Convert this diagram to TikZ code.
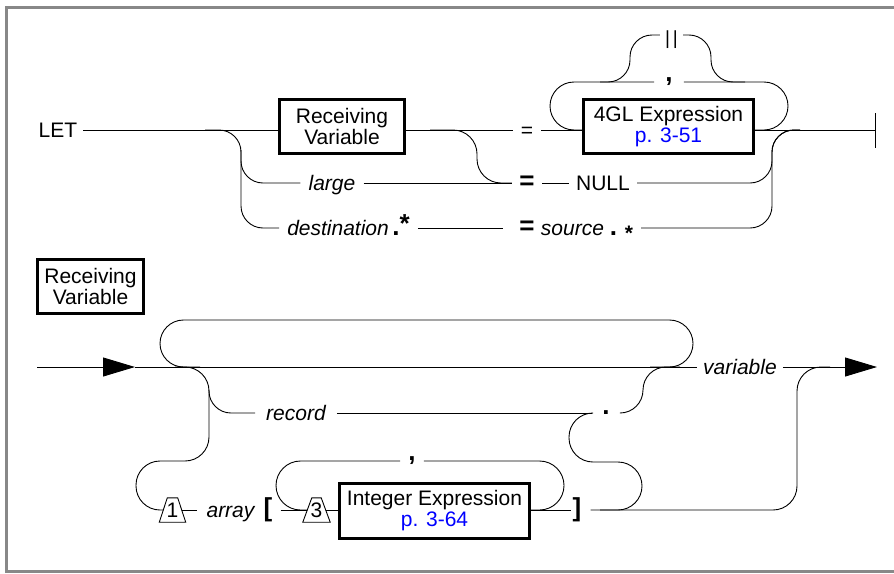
\documentclass[tikz,border=0pt]{standalone}
\usepackage{fontspec}
\setmainfont{Liberation Sans}
\usetikzlibrary{arrows.meta}
\definecolor{framegray}{RGB}{136,136,136}
\definecolor{linkblue}{RGB}{0,0,255}
\begin{document}
\begin{tikzpicture}[x=1pt,y=-1pt,
  every node/.style={font=\fontsize{21}{21}\selectfont},
  rail/.style={line width=0.9pt},
  rc/.style={rail, rounded corners=#1}, rc/.default=23pt,
  lbl/.style={inner ysep=0pt, inner xsep=#1, text height=14pt, text depth=0pt}, lbl/.default=7pt,
  itl/.style={font=\itshape\fontsize{21}{21}\selectfont},
  sym/.style={font=\bfseries\fontsize{26}{26}\selectfont, inner ysep=0pt, inner xsep=#1}, sym/.default=8pt,
  punct/.style={sym=#1, text height=0pt, text depth=1pt},
  dotsym/.style={sym=#1, text height=3.6pt, text depth=0pt},
  synbox/.style={draw, line width=3pt, align=center, inner sep=0pt, minimum height=54pt, minimum width=#1},
  trapbox/.style={inner sep=0pt, minimum height=24pt, minimum width=#1, text height=14pt, text depth=0pt},
  tip/.style={-{Triangle[length=32pt,width=19pt]}},
]
\useasboundingbox (0,0) rectangle (894,573);
\draw[framegray, line width=3pt] (894,7.5) -- (6,7.5) -- (6,571.5) -- (894,571.5);

% ---------------- top diagram ----------------
\node[lbl=6pt] (let) at (58,130) {LET};
\node[synbox=125pt] (rv) at (342,126.5) {Receiving\\Variable};
\node[lbl=8pt] (eq1) at (527,130) {=};
\node[synbox=170pt] (gl) at (668.5,126.5) {4GL Expression\\\textcolor{linkblue}{p. 3-51}};
\coordinate (rvw) at (rv.west |- let.east);
\coordinate (rve) at (rv.east |- let.east);
\coordinate (glw) at (gl.west |- let.east);
\coordinate (gle) at (gl.east |- let.east);
\coordinate (endtop) at (875,130);
\coordinate (bartop) at (875,113);
\coordinate (barbot) at (875,148);
\node[punct=11pt] (cm1) at (669,82) {,};
\node[lbl=5pt, font=\fontsize{19}{19}\selectfont] (bars) at (671.5,35) {\raisebox{-2pt}{|\kern3pt|}};
\node[lbl=8pt, itl] (large) at (332,183) {large};
\node[sym=7.4pt] (eqb1) at (527,183) {=};
\node[lbl=7pt] (null) at (603,183) {NULL};
\node[lbl=8pt] (dest) at (348.5,228) {\textit{destination}\,{\bfseries\fontsize{26}{26}\selectfont.\raisebox{3pt}{*}}};
\node[sym=16.4pt] (eqb3) at (527,228) {=};
\node[lbl=8pt] (src) at (587,228) {\textit{source} {\bfseries\fontsize{26}{26}\selectfont.} \raisebox{-5pt}{\bfseries *}};

\coordinate (j1) at (205,130);
\coordinate (j2) at (430,130);
\coordinate (j3) at (800,130);
\coordinate (cj1) at (600,82);
\coordinate (cj2) at (745,82);

\draw[rail] (let.east) -- (rvw);
\draw[rail] (rve) -- (eq1.west);
\draw[rail] (eq1.east) -- (glw);
\draw[rail] (gle) -- (endtop);
\draw[rail] (bartop) -- (barbot);
\draw[rc=24pt] (glw) -- (550,130) -- (550,82) -- (cm1.west);
\draw[rc=24pt] (gle) -- (788,130) -- (788,82) -- (cm1.east);
\draw[rc=22pt] (cj1) -- (630,82) -- (630,35) -- (bars.west);
\draw[rc=22pt] (bars.east) -- (711,35) -- (711,82) -- (cj2);

\draw[rc=22pt] (j1) -- (241,130) -- (241,228) -- (dest.west);
\draw[rc=22pt] (241,150) -- (241,183) -- (large.west);
\draw[rail] (large.east) -- (eqb1.west);
\draw[rc=24pt] (j2) -- (477,130) -- (477,183) -- (eqb1.west);
\draw[rail] (eqb1.east) -- (null.west);
\draw[rc=22pt] (null.east) -- (772,183) -- (772,130) -- (j3);
\draw[rail] (dest.east) -- (eqb3.west);
\draw[rc=22pt] (src.east) -- (772,228) -- (772,130) -- (j3);

% ---------------- bottom diagram ----------------
\node[synbox=106pt] (rvs) at (90.5,286.5) {Receiving\\Variable};
\coordinate (s2) at (37,367);
\coordinate (a1) at (135,367);
\node[lbl=6pt, itl] (var) at (740,367) {variable};
\coordinate (a2) at (877,367);
\draw[rail, tip] (s2) -- (a1);
\draw[rail] (a1) -- (var.west);
\draw[rail, tip] (var.east) -- (a2);

\coordinate (bj1) at (200,367);
\coordinate (bj2) at (650,367);
\coordinate (bj3) at (175,367);
\coordinate (bj4) at (680,367);
\coordinate (bj5) at (600,510);
\coordinate (bj6) at (830,367);

\draw[rc=23.5pt] (bj1) -- (160,367) -- (160,320) -- (693,320) -- (693,367) -- (bj2);

\node[trapbox=26pt] (t1) at (172.5,510) {1};
\draw[rail] (t1.south west) -- (t1.south east) -- ([xshift=-8pt]t1.north east) -- ([xshift=8pt]t1.north west) -- cycle;
\coordinate (t1w) at ([xshift=4pt]t1.west);
\coordinate (t1e) at ([xshift=-4pt]t1.east);

\draw[rc=24pt] (bj3) -- (209,367) -- (209,461) -- (136,461) -- (136,510) -- (t1w);

\node[lbl=11pt, itl] (rec) at (296,413) {record};
\node[dotsym=10pt] (dot) at (606,413) {.};
\draw[rc=22pt] (209,390) -- (209,413) -- (rec.west);
\draw[rail] (rec.east) -- (dot.west);
\draw[rc=23pt] (dot.east) -- (643,413) -- (643,367) -- (bj4);
\draw[rc=24pt] (dot.west) -- (569,413) -- (569,462) -- (642,462) -- (642,510) -- (bj5);

\node[lbl=9.5pt, itl] (arr) at (230.5,510) {array};
\draw[rail] (t1e) -- (arr.west);
\node[sym=8pt] (lb) at (268,510) {[};
\node[trapbox=27pt] (t3) at (316.5,510) {3};
\draw[rail] (t3.south west) -- (t3.south east) -- ([xshift=-9pt]t3.north east) -- ([xshift=9pt]t3.north west) -- cycle;
\coordinate (t3w) at ([xshift=4.5pt]t3.west);
\coordinate (t3e) at ([xshift=-4.5pt]t3.east);
\draw[rail] (lb.east) -- (t3w);
\node[synbox=190pt, minimum height=55pt] (ie) at (434.5,511) {Integer Expression\\\textcolor{linkblue}{p. 3-64}};
\draw[rail] (t3e) -- (t3e -| ie.west);

\node[punct=8pt] (cm2) at (412,461) {,};
\draw[rc=24.5pt] (t3w) -- (276,510) -- (276,461) -- (cm2.west);
\draw[rc=24.5pt] (ie.east |- t3e) -- (564,510) -- (564,461) -- (cm2.east);
\node[sym=1pt] (rb) at (577,510) {]};
\draw[rail] (ie.east |- t3e) -- (rb.west);
\draw[rc=24pt] ([xshift=8pt]rb.east) -- (797,510) -- (797,367) -- (bj6);
\end{tikzpicture}
\end{document}
